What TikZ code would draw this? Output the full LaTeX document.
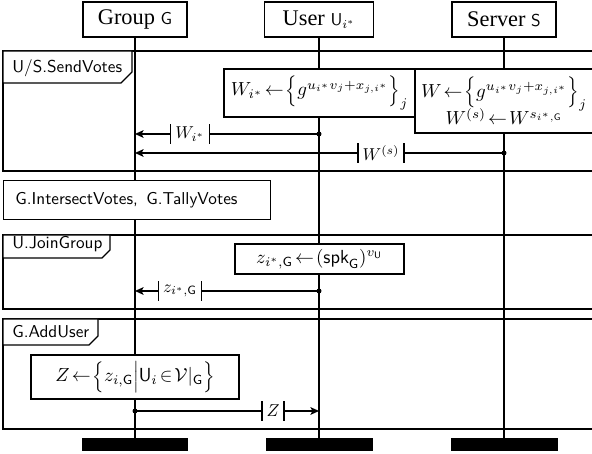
\RequirePackage{fix-cm}
\documentclass[tikz,border=0pt]{standalone}
\usepackage{fontspec}
\newfontfamily\hdrfont{Liberation Serif}
\usetikzlibrary{arrows.meta}
\def\px{0.5814pt}
\newcommand\msglabel[3]{\node[msglbl] (#1) at #2 {#3};
  \draw[lblbar] (#1.north west) -- (#1.south west) (#1.north east) -- (#1.south east);}
\newcommand\boxmath[1]{{\fontsize{11}{13}\selectfont$#1$}}
\newcommand\hdrmath[1]{{\fontsize{10}{12}\selectfont$#1$}}
\begin{document}
\begin{tikzpicture}[x=0.5814pt,y=-0.5814pt,
 every node/.style={font=\fontsize{10}{12}\selectfont},
 hdr/.style={draw,line width=0.8pt,fill=white,inner sep=0pt,minimum height=35*\px,font=\hdrfont\fontsize{13}{15}\selectfont},
 endbar/.style={fill=black,inner sep=0pt,minimum height=13*\px},
 lifeline/.style={line width=1.1pt},
 sdframe/.style={line width=0.8pt},
 tabbox/.style={draw,line width=0.8pt,fill=white},
 tabtext/.style={anchor=base west,inner sep=0pt,font=\sffamily\fontsize{10}{12}\selectfont},
 actbox/.style={draw,line width=0.8pt,fill=white,inner sep=0pt},
 msg/.style={line width=0.8pt,-{Stealth[length=5pt,width=4.5pt,inset=1.2pt]}},
 msglbl/.style={fill=white,inner xsep=2.5pt,inner ysep=0pt,minimum height=19*\px},
 lblbar/.style={line width=0.8pt},
 msgdot/.style={circle,fill=black,inner sep=0pt,minimum size=5*\px},
]
\useasboundingbox (0,0) rectangle (592,454);
\clip (0,0) rectangle (592,454);
% headers and end bars
\node[hdr,minimum width=104*\px] (hg) at (135,19.5) {Group \hdrmath{\mathsf{G}}};
\node[hdr,minimum width=109*\px] (hu) at (319,19.5) {User \hdrmath{\mathsf{U}_{i^*}}};
\node[hdr,minimum width=104*\px] (hs) at (504,19.5) {Server \hdrmath{\mathsf{S}}};
\node[endbar,minimum width=106*\px] (bg) at (135,444.5) {};
\node[endbar,minimum width=107*\px] (bu) at (319,444.5) {};
\node[endbar,minimum width=107*\px] (bs) at (504,444.5) {};
\draw[lifeline] (hg.south) -- (bg.north);
\draw[lifeline] (hu.south) -- (bu.north);
\draw[lifeline] (hs.south) -- (bs.north);
% frame 1
\draw[sdframe] (3,51) rectangle (600,171);
\draw[tabbox] (3,51) -- (132,51) -- (132,72) -- (121,83) -- (3,83) -- cycle;
\node[tabtext] (t1) at (12,73) {U/S.SendVotes};
\node[actbox,minimum width=191*\px,minimum height=48*\px] (wu) at (319.5,93)
  {\boxmath{W_{i^*}\!\leftarrow\!\Big\{g^{u_{i^*}v_j+x_{j,i^*}}\Big\}_j}};
\node[actbox,minimum width=178*\px,minimum height=64*\px,align=center] (ws) at (504,101)
  {\boxmath{W\!\leftarrow\!\Big\{g^{u_{i^*}v_j+x_{j,i^*}}\Big\}_j}\\[-3pt]
   \boxmath{W^{(s)}\!\leftarrow\!W^{s_{i^*,\mathsf{G}}}}};
\coordinate (a1s) at (319,134); \coordinate (a1e) at (135,134);
\draw[msg] (a1s) -- (a1e); \node[msgdot] (d1) at (a1s) {};
\msglabel{l1}{(190,134)}{$W_{i^*}$}
\coordinate (a2s) at (504,153); \coordinate (a2e) at (135,153);
\draw[msg] (a2s) -- (a2e); \node[msgdot] (d2) at (a2s) {};
\msglabel{l2}{(381,153)}{$W^{(s)}$}
% intersect/tally
\node[actbox,minimum width=267*\px,minimum height=39*\px,anchor=north west] (iv) at (3,180) {};
\node[tabtext] (ivt) at (15,205) {G.IntersectVotes,\enspace G.TallyVotes};
% frame 2
\draw[sdframe] (3,235) rectangle (600,309);
\draw[tabbox] (3,235) -- (110,235) -- (110,250) -- (102,258) -- (3,258) -- cycle;
\node[tabtext] (t2) at (12,249) {U.JoinGroup};
\node[actbox,minimum width=169*\px,minimum height=30*\px] (zu) at (319.5,259)
  {\boxmath{z_{i^*,\mathsf{G}}\!\leftarrow\!(\mathsf{spk}_\mathsf{G})^{v_\mathsf{U}}}};
\coordinate (a3s) at (319,291); \coordinate (a3e) at (135,291);
\draw[msg] (a3s) -- (a3e); \node[msgdot] (d3) at (a3s) {};
\msglabel{l3}{(180,291)}{$z_{i^*,\mathsf{G}}$}
% frame 3
\draw[sdframe] (3,319) rectangle (600,429);
\draw[tabbox] (3,319) -- (98,319) -- (98,336) -- (89,345) -- (3,345) -- cycle;
\node[tabtext] (t3) at (12,338) {G.AddUser};
\node[actbox,minimum width=208*\px,minimum height=44*\px] (zg) at (135,377)
  {\boxmath{Z\!\leftarrow\!\Big\{z_{i,\mathsf{G}}\Big|\mathsf{U}_i\!\in\!\mathcal{V}|_\mathsf{G}\Big\}}};
\coordinate (a4s) at (135,411); \coordinate (a4e) at (319,411);
\draw[msg] (a4s) -- (a4e); \node[msgdot] (d4) at (a4s) {};
\msglabel{l4}{(273,411)}{$Z$}
\end{tikzpicture}
\end{document}
